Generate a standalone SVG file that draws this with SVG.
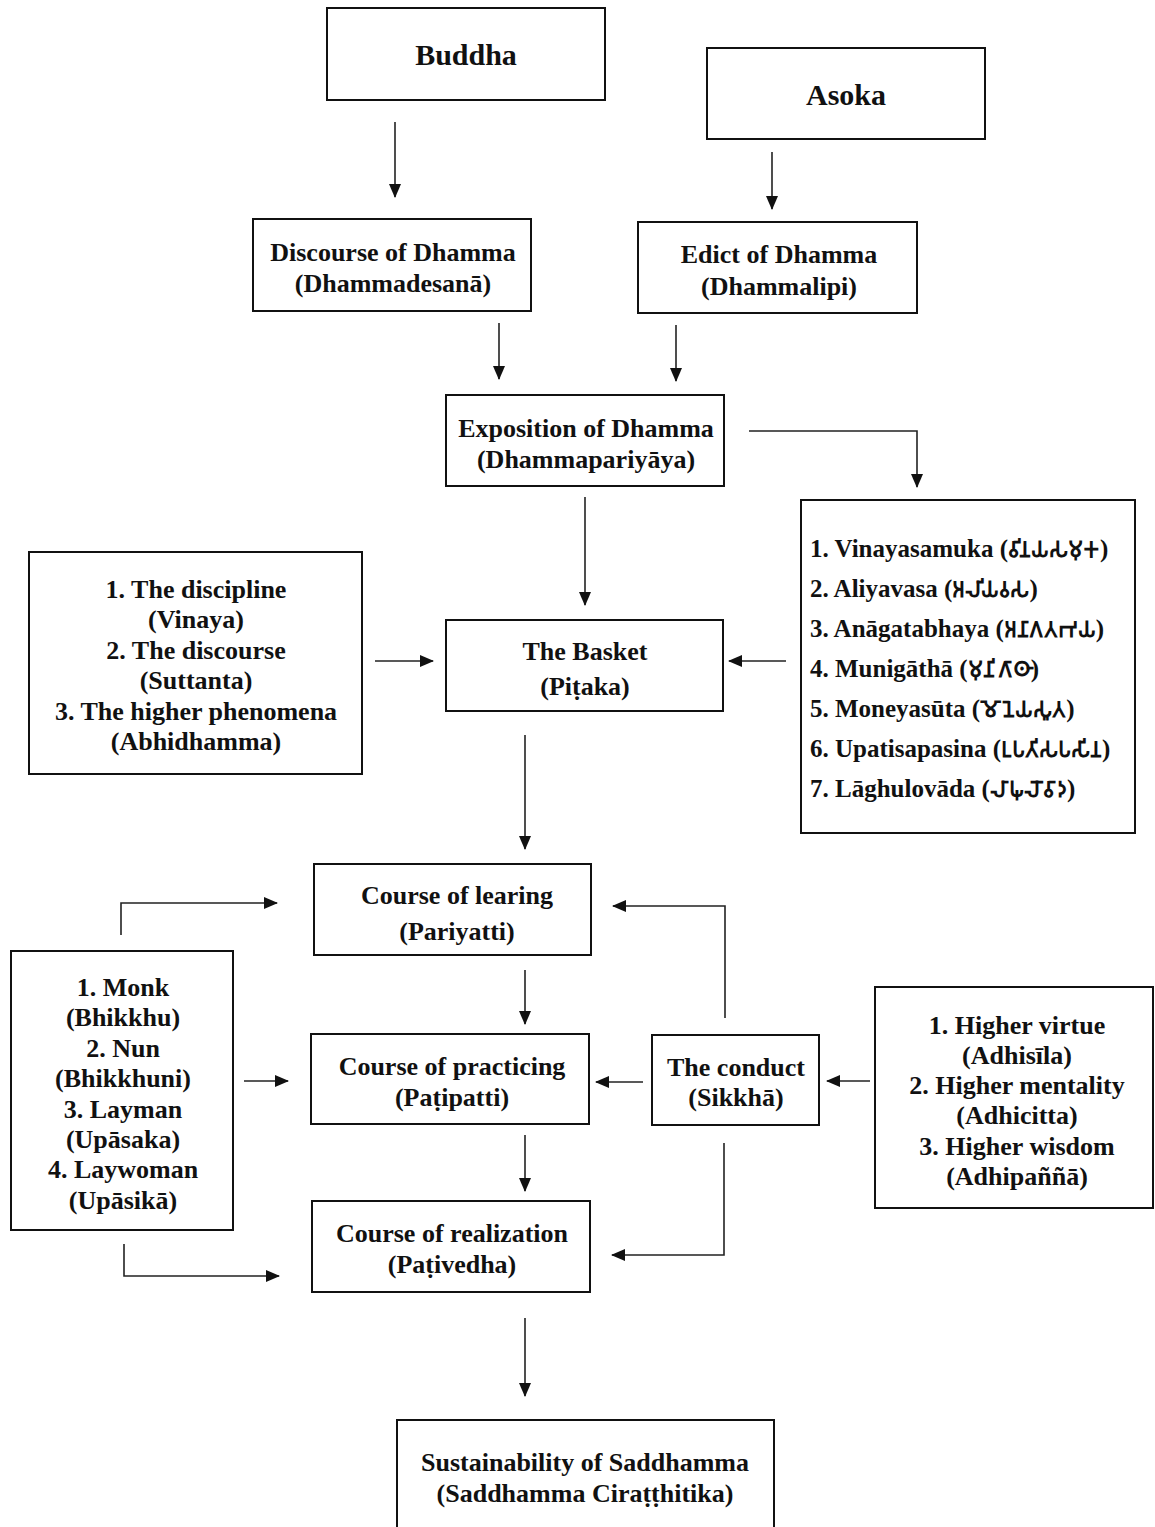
<svg xmlns="http://www.w3.org/2000/svg" width="1155" height="1527" viewBox="0 0 1155 1527">
<style>
.box{fill:#fff;stroke:#111;stroke-width:2}
.t{font-family:"Liberation Serif","Times New Roman",serif;font-weight:bold;font-size:26px;fill:#111;text-anchor:middle}
.tl{font-family:"Liberation Serif","Times New Roman",serif;font-weight:bold;font-size:25px;fill:#111;text-anchor:start}
.br{font-size:22px}
.big{font-size:30px}
.c{fill:none;stroke:#222;stroke-width:1.6;marker-end:url(#ah)}
</style>
<defs>
<marker id="ah" markerWidth="14" markerHeight="12" refX="13" refY="6" orient="auto" markerUnits="userSpaceOnUse">
<path d="M0,0 L14,6 L0,12 z" fill="#111"/>
</marker>
</defs>
<rect width="1155" height="1527" fill="#fff"/>

<g id="connectors">
<path class="c" d="M395,122 V197"/>
<path class="c" d="M772,152 V209"/>
<path class="c" d="M499,323 V379"/>
<path class="c" d="M676,325 V381"/>
<path class="c" d="M749,431 H917 V487"/>
<path class="c" d="M585,497 V605"/>
<path class="c" d="M375,661 H433"/>
<path class="c" d="M786,661 H729"/>
<path class="c" d="M525,735 V849"/>
<path class="c" d="M121,935 V903 H277"/>
<path class="c" d="M244,1081 H288"/>
<path class="c" d="M124,1244 V1276 H279"/>
<path class="c" d="M525,970 V1024"/>
<path class="c" d="M525,1135 V1191"/>
<path class="c" d="M725,1018 V906 H613"/>
<path class="c" d="M643,1082 H596"/>
<path class="c" d="M724,1143 V1255 H612"/>
<path class="c" d="M870,1081 H827"/>
<path class="c" d="M525,1318 V1396"/>
</g>

<g id="buddha">
<rect class="box" x="327" y="8" width="278" height="92"/>
<text class="t big" x="466" y="65">Buddha</text>
</g>
<g id="asoka">
<rect class="box" x="707" y="48" width="278" height="91"/>
<text class="t big" x="846" y="105">Asoka</text>
</g>
<g id="discourse">
<rect class="box" x="253" y="219" width="278" height="92"/>
<text class="t" x="393" y="261">Discourse of Dhamma</text>
<text class="t" x="393" y="292">(Dhammadesanā)</text>
</g>
<g id="edict">
<rect class="box" x="638" y="222" width="279" height="91"/>
<text class="t" x="779" y="263">Edict of Dhamma</text>
<text class="t" x="779" y="295">(Dhammalipi)</text>
</g>
<g id="exposition">
<rect class="box" x="446" y="395" width="278" height="91"/>
<text class="t" x="586" y="437">Exposition of Dhamma</text>
<text class="t" x="586" y="468">(Dhammapariyāya)</text>
</g>
<g id="basket">
<rect class="box" x="446" y="620" width="277" height="91"/>
<text class="t" x="585" y="660">The Basket</text>
<text class="t" x="585" y="695">(Piṭaka)</text>
</g>
<g id="three-baskets">
<rect class="box" x="29" y="552" width="333" height="222"/>
<text class="t" x="196" y="598">1. The discipline</text>
<text class="t" x="196" y="628">(Vinaya)</text>
<text class="t" x="196" y="659">2. The discourse</text>
<text class="t" x="196" y="689">(Suttanta)</text>
<text class="t" x="196" y="720">3. The higher phenomena</text>
<text class="t" x="196" y="750">(Abhidhamma)</text>
</g>
<g id="texts">
<rect class="box" x="801" y="500" width="334" height="333"/>
<text class="tl" x="810" y="557">1. Vinayasamuka (<tspan class="br">𑀯𑀺𑀦𑀬𑀲𑀫𑀼𑀓</tspan>)</text>
<text class="tl" x="810" y="597">2. Aliyavasa (<tspan class="br">𑀅𑀮𑀺𑀬𑀯𑀲</tspan>)</text>
<text class="tl" x="810" y="637">3. Anāgatabhaya (<tspan class="br">𑀅𑀦𑀸𑀕𑀢𑀪𑀬</tspan>)</text>
<text class="tl" x="810" y="677">4. Munigāthā (<tspan class="br">𑀫𑀼𑀦𑀺𑀕𑀸𑀣𑀸</tspan>)</text>
<text class="tl" x="810" y="717">5. Moneyasūta (<tspan class="br">𑀫𑁄𑀦𑁂𑀬𑀲𑀽𑀢</tspan>)</text>
<text class="tl" x="810" y="757">6. Upatisapasina (<tspan class="br">𑀉𑀧𑀢𑀺𑀲𑀧𑀲𑀺𑀦</tspan>)</text>
<text class="tl" x="810" y="797">7. Lāghulovāda (<tspan class="br">𑀮𑀸𑀖𑀼𑀮𑁄𑀯𑀸𑀤</tspan>)</text>
</g>
<g id="learning">
<rect class="box" x="314" y="864" width="277" height="91"/>
<text class="t" x="457" y="904">Course of learing</text>
<text class="t" x="457" y="940">(Pariyatti)</text>
</g>
<g id="practicing">
<rect class="box" x="311" y="1034" width="278" height="90"/>
<text class="t" x="452" y="1075">Course of practicing</text>
<text class="t" x="452" y="1106">(Paṭipatti)</text>
</g>
<g id="realization">
<rect class="box" x="312" y="1201" width="278" height="91"/>
<text class="t" x="452" y="1242">Course of realization</text>
<text class="t" x="452" y="1273">(Paṭivedha)</text>
</g>
<g id="persons">
<rect class="box" x="11" y="951" width="222" height="279"/>
<text class="t" x="123" y="996">1. Monk</text>
<text class="t" x="123" y="1026">(Bhikkhu)</text>
<text class="t" x="123" y="1057">2. Nun</text>
<text class="t" x="123" y="1087">(Bhikkhuni)</text>
<text class="t" x="123" y="1118">3. Layman</text>
<text class="t" x="123" y="1148">(Upāsaka)</text>
<text class="t" x="123" y="1178">4. Laywoman</text>
<text class="t" x="123" y="1209">(Upāsikā)</text>
</g>
<g id="conduct">
<rect class="box" x="652" y="1035" width="167" height="90"/>
<text class="t" x="736" y="1076">The conduct</text>
<text class="t" x="736" y="1106">(Sikkhā)</text>
</g>
<g id="higher">
<rect class="box" x="875" y="987" width="278" height="221"/>
<text class="t" x="1017" y="1034">1. Higher virtue</text>
<text class="t" x="1017" y="1064">(Adhisīla)</text>
<text class="t" x="1017" y="1094">2. Higher mentality</text>
<text class="t" x="1017" y="1124">(Adhicitta)</text>
<text class="t" x="1017" y="1155">3. Higher wisdom</text>
<text class="t" x="1017" y="1185">(Adhipaññā)</text>
</g>
<g id="sustainability">
<rect class="box" x="397" y="1420" width="377" height="120"/>
<text class="t" x="585" y="1471">Sustainability of Saddhamma</text>
<text class="t" x="585" y="1502">(Saddhamma Ciraṭṭhitika)</text>
</g>
</svg>
